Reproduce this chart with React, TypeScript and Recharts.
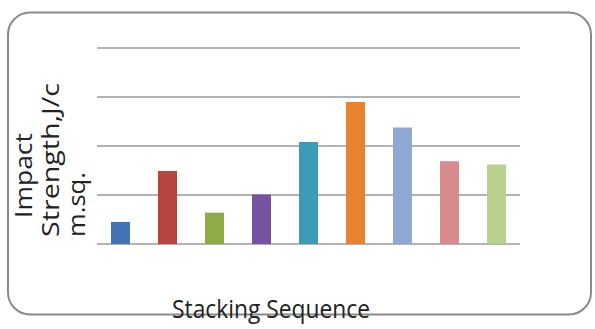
import { BarChart, Bar, XAxis, YAxis, CartesianGrid, Cell } from 'recharts';

const sequences = ['S1', 'S2', 'S3', 'S4', 'S5', 'S6', 'S7', 'S8', 'S9'];
const impactValues = [0.45, 1.49, 0.64, 1.01, 2.08, 2.9, 2.38, 1.69, 1.62];
const barColors = ['#4373B5', '#B84442', '#8FAB48', '#7553A0', '#3C9BB6', '#E8822F', '#8EA9D6', '#D88B8E', '#B9D08F'];
const yTicks = [0, 1, 2, 3, 4];

const chartData = sequences.map((name, i) => ({ name, impact: impactValues[i] }));

const labelFont = "'Open Sans', 'DejaVu Sans', sans-serif";

const App = () => {
    return (
        <div style={{ position: 'absolute', left: 0, top: 0, width: 595, height: 329, background: '#fff' }}>
            <BarChart
                width={595}
                height={329}
                data={chartData}
                margin={{ top: 48, right: 75, bottom: 85, left: 97 }}
                barCategoryGap={14}
            >
                <CartesianGrid vertical={false} stroke='#9a9a9a' strokeWidth={1.5} />
                <XAxis dataKey='name' hide />
                <YAxis hide domain={[0, 4]} ticks={yTicks} />
                <Bar dataKey='impact' barSize={19} isAnimationActive={false}>
                    {chartData.map((d, i) => (
                        <Cell key={d.name} fill={barColors[i]} />
                    ))}
                </Bar>
            </BarChart>

            {/* frame and axis titles */}
            <svg
                width={595}
                height={329}
                style={{ position: 'absolute', left: 0, top: 0, pointerEvents: 'none' }}
            >
                <rect x={8} y={12.5} width={583} height={302} rx={22} ry={22}
                    fill='none' stroke='#8a8a8a' strokeWidth={2} />
                <g fontFamily={labelFont} fontSize={23} fill='#222'>
                    <text transform='translate(32,218) rotate(-90)' textLength={85} lengthAdjust='spacingAndGlyphs'>Impact</text>
                    <text transform='translate(59,237) rotate(-90)' textLength={154} lengthAdjust='spacingAndGlyphs'>Strength,J/c</text>
                    <text transform='translate(85,237) rotate(-90)' textLength={65} lengthAdjust='spacingAndGlyphs'>m.sq.</text>
                </g>
                <text x={172} y={318} fontFamily={labelFont} fontSize={26} fill='#222'
                    textLength={198} lengthAdjust='spacingAndGlyphs'>Stacking Sequence</text>
            </svg>
        </div>
    );
};

export default App;
